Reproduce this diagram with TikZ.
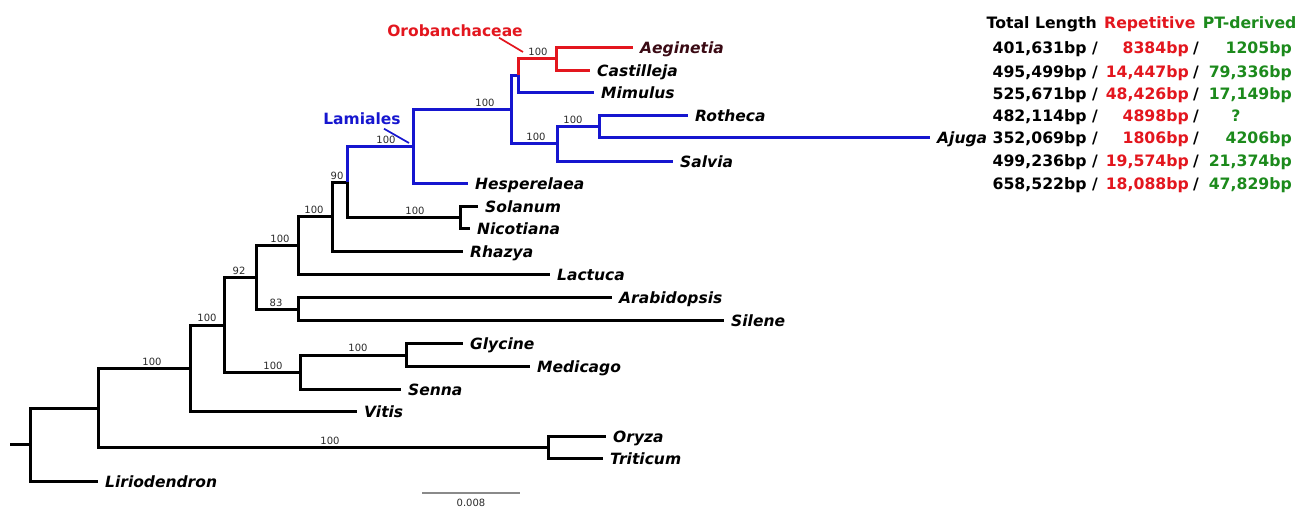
\documentclass[tikz,border=0pt]{standalone}
\usepackage{fontspec}
\setmainfont{DejaVu Sans}
\usepackage{tikz}
\usetikzlibrary{positioning}
\definecolor{oroRed}{HTML}{E3161E}
\definecolor{lamBlue}{HTML}{1616CF}
\definecolor{ptGreen}{HTML}{1C8A1C}
\definecolor{aegMaroon}{HTML}{3A0A14}
\definecolor{bsGray}{HTML}{2A2A2A}
\definecolor{barGray}{HTML}{8A8A8A}

\begin{document}
\begin{tikzpicture}[
    x=1pt, y=-1pt,
    br/.style={line width=3pt, color=black},
    brB/.style={br, color=lamBlue},
    brR/.style={br, color=oroRed},
    ptr/.style={line width=1.7pt},
    taxon/.style={anchor=west, inner xsep=7pt, inner ysep=0pt, text height=13pt, text depth=0pt, font=\fontsize{15.5}{18}\selectfont\bfseries\itshape},
    tab/.style={inner sep=0pt, text height=13pt, text depth=0pt, font=\fontsize{15.7}{18}\selectfont\bfseries},
    bs/.style={inner sep=0pt, text=bsGray, font=\fontsize{10}{12}\selectfont},
    clade/.style={inner sep=0pt, text height=13pt, text depth=0pt, font=\fontsize{15.5}{18}\selectfont\bfseries}
]
  \useasboundingbox (0,0) rectangle (1314,507);

  % internal nodes of the tree
  \coordinate (stub) at (10,444);
  \coordinate (root) at (30,444);
  \coordinate (eud) at (98,408);
  \coordinate (ot) at (548,447);
  \coordinate (vitn) at (190,368);
  \coordinate (ros) at (224,325);
  \coordinate (se) at (300,372);
  \coordinate (gm) at (406,355);
  \coordinate (n92) at (256,277);
  \coordinate (as) at (298,309);
  \coordinate (nl) at (298,245);
  \coordinate (nr) at (332,216);
  \coordinate (n90) at (347,182);
  \coordinate (sn) at (460,217);
  \coordinate (lam) at (413,146);
  \coordinate (core) at (511,109);
  \coordinate (l2) at (557,143);
  \coordinate (rs) at (599,126);
  \coordinate (om) at (518,75);
  \coordinate (oro) at (556,58);

  % taxa
  \node[taxon, text=aegMaroon] (aeg) at (633,47) {Aeginetia};
  \node[taxon] (cas) at (590,70) {Castilleja};
  \node[taxon] (mim) at (594,92) {Mimulus};
  \node[taxon] (rot) at (688,115) {Rotheca};
  \node[taxon] (aju) at (930,137) {Ajuga};
  \node[taxon] (sal) at (673,161) {Salvia};
  \node[taxon] (hes) at (468,183) {Hesperelaea};
  \node[taxon] (sol) at (478,206) {Solanum};
  \node[taxon] (nic) at (470,228) {Nicotiana};
  \node[taxon] (rha) at (463,251) {Rhazya};
  \node[taxon] (lac) at (550,274) {Lactuca};
  \node[taxon] (ara) at (612,297) {Arabidopsis};
  \node[taxon] (sil) at (724,320) {Silene};
  \node[taxon] (gly) at (463,343) {Glycine};
  \node[taxon] (med) at (530,366) {Medicago};
  \node[taxon] (sen) at (401,389) {Senna};
  \node[taxon] (vit) at (357,411) {Vitis};
  \node[taxon] (ory) at (606,436) {Oryza};
  \node[taxon] (tri) at (603,458) {Triticum};
  \node[taxon] (lir) at (98,481) {Liriodendron};

  % black branches
  \draw[br] (stub) -- (root);
  \draw[br] (root) |- (eud);
  \draw[br] (root) |- (lir.west);
  \draw[br] (eud) |- (vitn);
  \draw[br] (eud) |- (ot);
  \draw[br] (ot) |- (ory.west);
  \draw[br] (ot) |- (tri.west);
  \draw[br] (vitn) |- (ros);
  \draw[br] (vitn) |- (vit.west);
  \draw[br] (ros) |- (n92);
  \draw[br] (ros) |- (se);
  \draw[br] (se) |- (gm);
  \draw[br] (se) |- (sen.west);
  \draw[br] (gm) |- (gly.west);
  \draw[br] (gm) |- (med.west);
  \draw[br] (n92) |- (nl);
  \draw[br] (n92) |- (as);
  \draw[br] (as) |- (ara.west);
  \draw[br] (as) |- (sil.west);
  \draw[br] (nl) |- (nr);
  \draw[br] (nl) |- (lac.west);
  \draw[br] (nr) |- (n90);
  \draw[br] (nr) |- (rha.west);
  \draw[br] (n90) |- (sn);
  \draw[br] (sn) |- (sol.west);
  \draw[br] (sn) |- (nic.west);

  % Lamiales in blue
  \draw[brB] (n90) |- (lam);
  \draw[brB] (lam) |- (core);
  \draw[brB] (lam) |- (hes.west);
  \draw[brB] (core) |- (om);
  \draw[brB] (core) |- (l2);
  \draw[brB] (l2) |- (rs);
  \draw[brB] (l2) |- (sal.west);
  \draw[brB] (rs) |- (rot.west);
  \draw[brB] (rs) |- (aju.west);
  \draw[brB] (om) |- (mim.west);

  % Orobanchaceae in red
  \draw[brR] (om) |- (oro);
  \draw[brR] (oro) |- (aeg.west);
  \draw[brR] (oro) |- (cas.west);

  % bootstrap values
  \node[bs] (b_oro) at (538,51.5) {100};
  \node[bs] (b_core) at (485,102.5) {100};
  \node[bs] (b_rs) at (573,119.5) {100};
  \node[bs] (b_l2) at (536,136.5) {100};
  \node[bs] (b_lam) at (386,139.5) {100};
  \node[bs] (b_90) at (337,175.5) {90};
  \node[bs] (b_sn) at (415,210.5) {100};
  \node[bs] (b_nr) at (314,209.5) {100};
  \node[bs] (b_nl) at (280,238.5) {100};
  \node[bs] (b_as) at (276,302.5) {83};
  \node[bs] (b_92) at (239,270.5) {92};
  \node[bs] (b_gm) at (358,348) {100};
  \node[bs] (b_se) at (273,365.5) {100};
  \node[bs] (b_ros) at (207,318) {100};
  \node[bs] (b_vit) at (152,361.5) {100};
  \node[bs] (b_ot) at (330,440.5) {100};

  % clade labels
  \node[clade, text=oroRed] (oro_lab) at (455,30) {Orobanchaceae};
  \node[clade, text=lamBlue] (lam_lab) at (362,118) {Lamiales};
  \coordinate (oro_pt) at (523,52);
  \coordinate (lam_pt) at (409,143);
  \draw[ptr, oroRed] ([xshift=44pt, yshift=-1pt]oro_lab.south) -- (oro_pt);
  \draw[ptr, lamBlue] ([xshift=22pt, yshift=-4pt]lam_lab.south) -- (lam_pt);

  % table on the right
  \node[tab, anchor=east] (hd_tl) at (1097,22) {Total Length};
  \node[tab, anchor=west, text=oroRed, right=7pt of hd_tl] (hd_rep) {Repetitive};
  \node[tab, anchor=west, text=ptGreen, right=7pt of hd_rep] (hd_pt) {PT-derived};

  \node[tab, anchor=east] (t1) at (1098,46.5) {401,631bp /};
  \node[tab, anchor=east, text=oroRed] (r1) at (1189,46.5) {8384bp};
  \node[tab] (s1) at (1196,46.5) {/};
  \node[tab, anchor=east, text=ptGreen] (p1) at (1292,46.5) {1205bp};

  \node[tab, anchor=east] (t2) at (1098,71) {495,499bp /};
  \node[tab, anchor=east, text=oroRed] (r2) at (1189,71) {14,447bp};
  \node[tab] (s2) at (1196,71) {/};
  \node[tab, anchor=east, text=ptGreen] (p2) at (1292,71) {79,336bp};

  \node[tab, anchor=east] (t3) at (1098,92.5) {525,671bp /};
  \node[tab, anchor=east, text=oroRed] (r3) at (1189,92.5) {48,426bp};
  \node[tab] (s3) at (1196,92.5) {/};
  \node[tab, anchor=east, text=ptGreen] (p3) at (1292,92.5) {17,149bp};

  \node[tab, anchor=east] (t4) at (1098,115) {482,114bp /};
  \node[tab, anchor=east, text=oroRed] (r4) at (1189,115) {4898bp};
  \node[tab] (s4) at (1196,115) {/};
  \node[tab, text=ptGreen] (p4) at (1236,115) {?};

  \node[tab, anchor=east] (t5) at (1098,137) {352,069bp /};
  \node[tab, anchor=east, text=oroRed] (r5) at (1189,137) {1806bp};
  \node[tab] (s5) at (1196,137) {/};
  \node[tab, anchor=east, text=ptGreen] (p5) at (1292,137) {4206bp};

  \node[tab, anchor=east] (t6) at (1098,160) {499,236bp /};
  \node[tab, anchor=east, text=oroRed] (r6) at (1189,160) {19,574bp};
  \node[tab] (s6) at (1196,160) {/};
  \node[tab, anchor=east, text=ptGreen] (p6) at (1292,160) {21,374bp};

  \node[tab, anchor=east] (t7) at (1098,183) {658,522bp /};
  \node[tab, anchor=east, text=oroRed] (r7) at (1189,183) {18,088bp};
  \node[tab] (s7) at (1196,183) {/};
  \node[tab, anchor=east, text=ptGreen] (p7) at (1292,183) {47,829bp};

  % scale bar
  \coordinate (sb_l) at (422,493);
  \coordinate (sb_r) at (520,493);
  \draw[line width=1.3pt, barGray] (sb_l) -- (sb_r);
  \node[bs] (sb_lab) at (471,503) {0.008};
\end{tikzpicture}
\end{document}
